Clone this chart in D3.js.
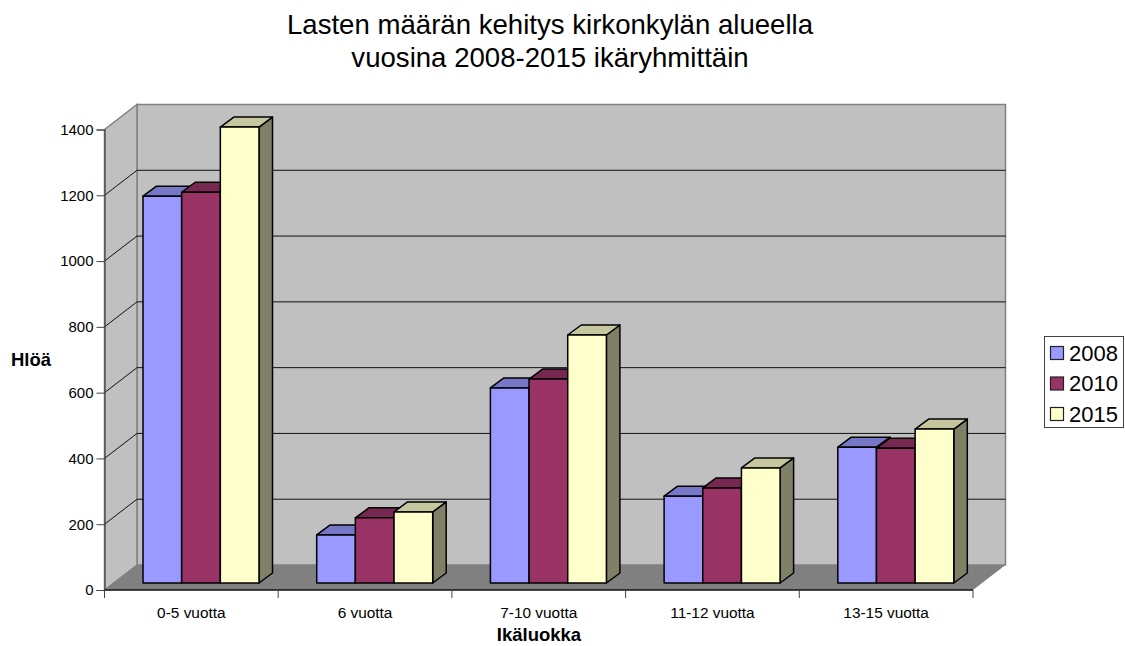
<!DOCTYPE html>
<html>
<head>
<meta charset="utf-8">
<script src="https://cdn.jsdelivr.net/npm/d3@7"></script>
<style>
  html, body { margin: 0; background: #fff; }
  text { font-family: "Liberation Sans", Arial, sans-serif; fill: #000; }
</style>
</head>
<body>
<div id="chart"></div>
<script>
const categories = ["0-5 vuotta", "6 vuotta", "7-10 vuotta", "11-12 vuotta", "13-15 vuotta"];
const years = ["2008", "2010", "2015"];
const values2008 = [1176, 146, 593, 264, 413];
const values2010 = [1188, 198, 620, 289, 410];
const values2015 = [1386, 216, 754, 350, 468];
const yTicks = [0, 200, 400, 600, 800, 1000, 1200, 1400];
const colors = ["#9999ff", "#993366", "#ffffcc"];

const width = 1125, height = 646;
const svg = d3.select("#chart").append("svg")
    .attr("width", width)
    .attr("height", height)
    .style("display", "block");

const x = d3.scaleBand().domain(categories).range([104.5, 973]);
const y = d3.scaleLinear().domain([0, 1400]).range([590, 129.5]);
const xBar = d3.scaleBand().domain(years).range([38.5, 154.5]);

// 3d offsets
const wallDx = 32.5, wallDy = -25;
const barOx = 0, barOy = -7;
const depthDx = 13.5, depthDy = -10;

const left = x.range()[0], right = x.range()[1];
const poly = pts => pts.map(p => p.join(",")).join(" ");

// walls and floor
svg.append("polygon")
    .attr("points", poly([[left + wallDx, y(1400) + wallDy], [right + wallDx, y(1400) + wallDy], [right + wallDx, y(0) + wallDy], [left + wallDx, y(0) + wallDy]]))
    .attr("fill", "#c0c0c0").attr("stroke", "#808080").attr("stroke-width", 1.5);
svg.append("polygon")
    .attr("points", poly([[left, y(1400)], [left + wallDx, y(1400) + wallDy], [left + wallDx, y(0) + wallDy], [left, y(0)]]))
    .attr("fill", "#c0c0c0").attr("stroke", "#808080").attr("stroke-width", 1.5);
svg.append("polygon")
    .attr("points", poly([[left, y(0)], [left + wallDx, y(0) + wallDy], [right + wallDx, y(0) + wallDy], [right, y(0)]]))
    .attr("fill", "#808080");

// gridlines
const grid = yTicks.filter(d => d > 0 && d < 1400);
svg.append("g").selectAll("polyline")
    .data(grid)
  .enter().append("polyline")
    .attr("points", d => poly([[left, y(d)], [left + wallDx, y(d) + wallDy], [right + wallDx, y(d) + wallDy]]))
    .attr("fill", "none")
    .attr("stroke", "#111")
    .attr("stroke-width", 1);

// bars
const series = years.map((yr, i) => ({ yr, color: colors[i], values: [values2008, values2010, values2015][i] }));
const shade = (c, k) => {
  const r = d3.rgb(c);
  return d3.rgb(r.r * k, r.g * k, r.b * k).formatHex();
};
categories.forEach((cat, ci) => {
  series.forEach(s => {
    const v = s.values[ci];
    const x0 = x(cat) + xBar(s.yr) + barOx, x1 = x0 + xBar.bandwidth();
    const yTop = y(v) + barOy, yBase = y(0) + barOy;
    const g = svg.append("g").attr("stroke", "#000").attr("stroke-width", 1.5).attr("stroke-linejoin", "round");
    g.append("polygon")
        .attr("points", poly([[x1, yTop], [x1 + depthDx, yTop + depthDy], [x1 + depthDx, yBase + depthDy], [x1, yBase]]))
        .attr("fill", shade(s.color, 0.5));
    g.append("polygon")
        .attr("points", poly([[x0, yTop], [x0 + depthDx, yTop + depthDy], [x1 + depthDx, yTop + depthDy], [x1, yTop]]))
        .attr("fill", shade(s.color, 0.78));
    g.append("rect")
        .attr("x", x0).attr("y", yTop)
        .attr("width", x1 - x0).attr("height", yBase - yTop)
        .attr("fill", s.color);
  });
});

// axes
const axisY = svg.append("g").attr("transform", `translate(${left},0)`)
    .call(d3.axisLeft(y).tickValues(yTicks).tickSize(8).tickPadding(3).tickFormat(d3.format("d")));
axisY.select(".domain").attr("stroke", "#444").attr("stroke-width", 1.2);
axisY.selectAll("line").attr("stroke", "#444");
axisY.selectAll("text").attr("font-size", 15).style("font-family", "Liberation Sans");

const axisX = svg.append("g").attr("transform", `translate(0,${y(0)})`);
axisX.append("line").attr("x1", left).attr("x2", right).attr("stroke", "#111").attr("stroke-width", 1.5);
const tickPos = categories.map(c => x(c)).concat(right);
axisX.selectAll(".tk").data(tickPos)
  .enter().append("line").attr("class", "tk")
    .attr("x1", d => d).attr("x2", d => d)
    .attr("y1", 0).attr("y2", 8)
    .attr("stroke", "#444");
axisX.selectAll(".lb").data(categories)
  .enter().append("text").attr("class", "lb")
    .attr("x", d => x(d) + x.bandwidth() / 2)
    .attr("y", 28)
    .attr("text-anchor", "middle")
    .attr("font-size", 15.4)
    .text(d => d);

// titles
const titleLines = ["Lasten määrän kehitys kirkonkylän alueella", "vuosina 2008-2015 ikäryhmittäin"];
svg.selectAll(".title").data(titleLines)
  .enter().append("text").attr("class", "title")
    .attr("x", 550).attr("y", (d, i) => 34 + i * 33)
    .attr("text-anchor", "middle")
    .attr("font-size", 27.6)
    .text(d => d);
svg.append("text").attr("x", 539).attr("y", 641)
    .attr("text-anchor", "middle").attr("font-size", 18.5).attr("font-weight", "bold").text("Ikäluokka");
svg.append("text").attr("x", 31).attr("y", 366)
    .attr("text-anchor", "middle").attr("font-size", 18.5).attr("font-weight", "bold").text("Hlöä");

// legend
const legend = svg.append("g");
legend.append("rect").attr("x", 1044.5).attr("y", 336.5).attr("width", 79).attr("height", 91)
    .attr("fill", "#fff").attr("stroke", "#444");
const rows = legend.selectAll("g").data(series).enter().append("g")
    .attr("transform", (d, i) => `translate(0,${i * 30.5})`);
rows.append("rect").attr("x", 1050.5).attr("y", 346.5).attr("width", 13).attr("height", 13)
    .attr("fill", d => d.color).attr("stroke", "#222").attr("stroke-width", 1.2);
rows.append("text").attr("x", 1069).attr("y", 360.5).attr("font-size", 22).text(d => d.yr);
</script>
</body>
</html>
